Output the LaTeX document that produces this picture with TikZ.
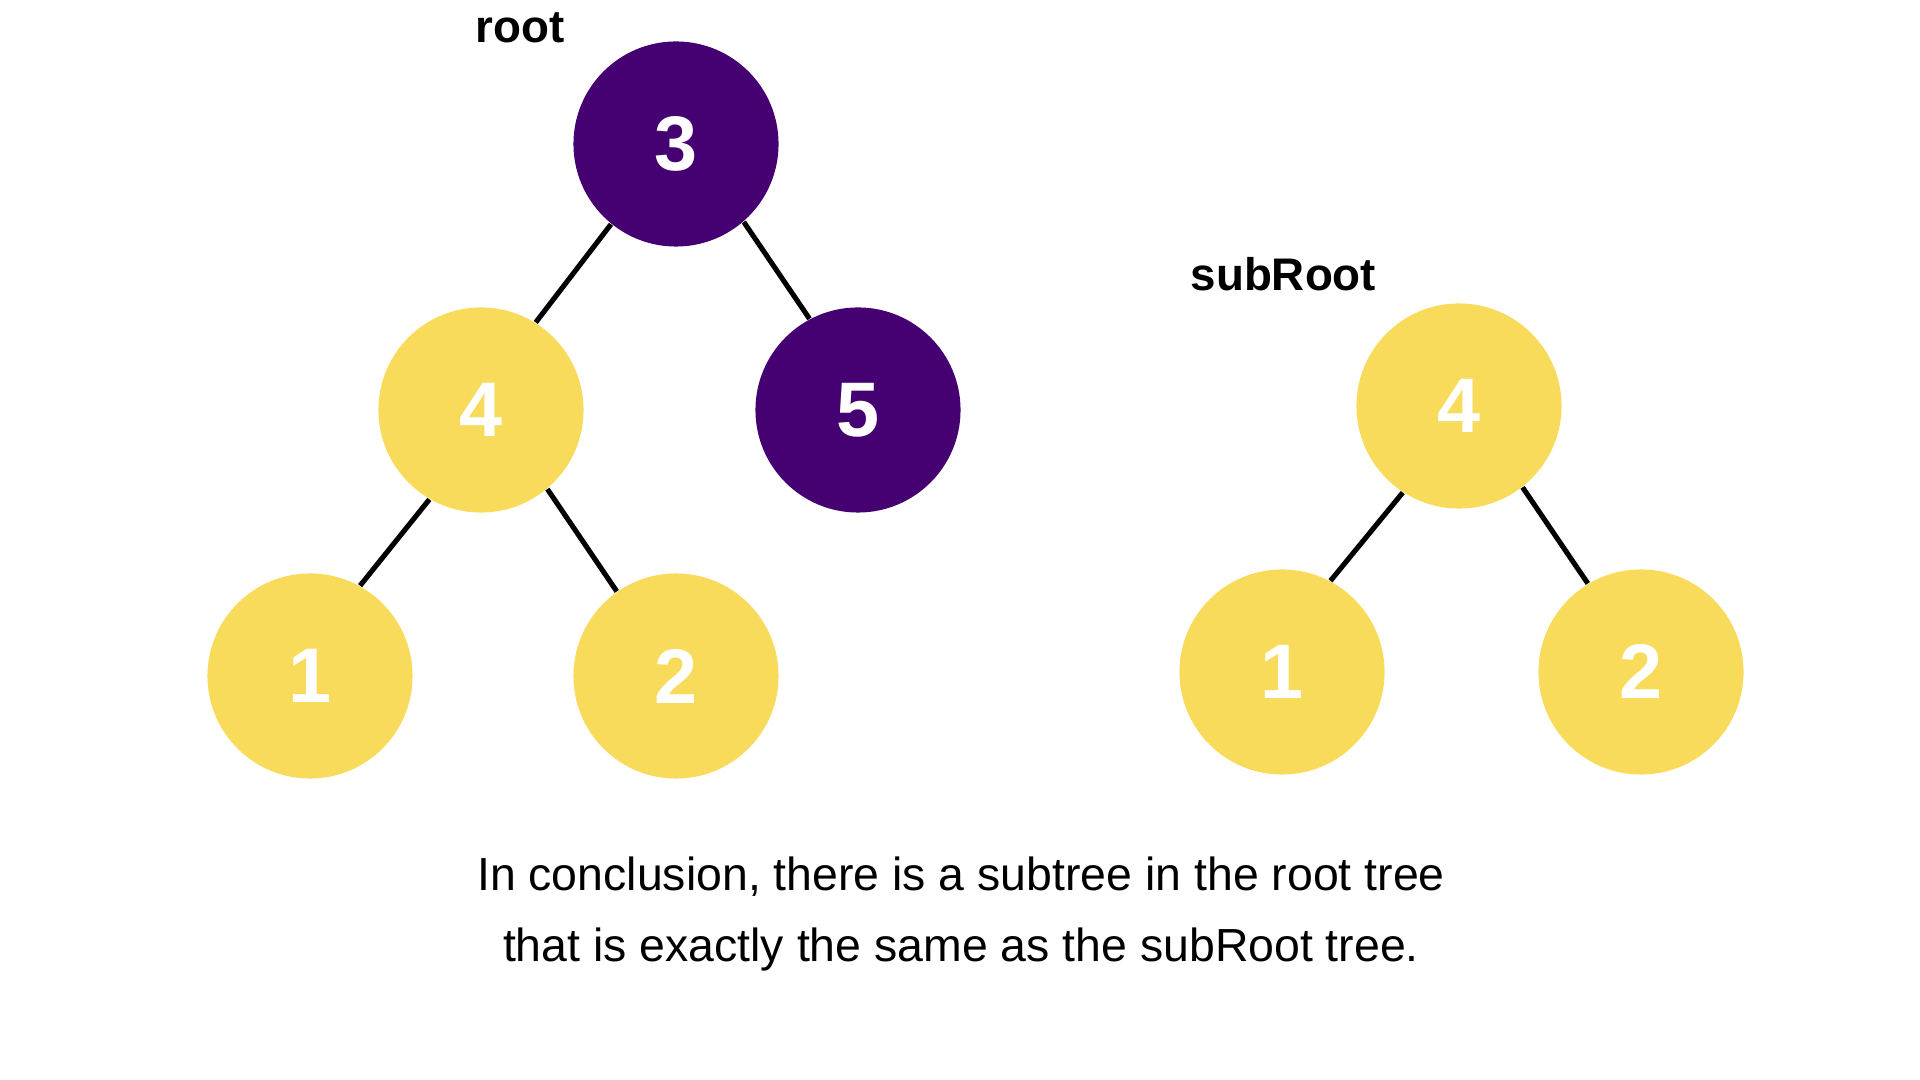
\documentclass[tikz,border=0pt]{standalone}
\usepackage{fontspec}
\setmainfont{Liberation Sans}
\definecolor{purp}{RGB}{69,0,114}
\definecolor{yel}{RGB}{249,219,91}
\begin{document}
\begin{tikzpicture}[x=0.01cm,y=-0.01cm,
  tnode/.style={circle, minimum size=2.05cm, inner sep=0pt, text=white, font=\bfseries\fontsize{22}{22}\selectfont},
  ynode/.style={tnode, fill=yel},
  pnode/.style={tnode, fill=purp},
  link/.style={line width=1.45pt, draw=black},
  lbl/.style={font=\bfseries\fontsize{13}{15}\selectfont, anchor=base west, inner sep=0pt},
  captxt/.style={font=\fontsize{13.2}{16}\selectfont, anchor=base, inner sep=0pt}]
\useasboundingbox (0,0) rectangle (1920,1080);

% left tree
\node[pnode] (a3) at (676,144) {3};
\node[ynode] (a4) at (481,410) {4};
\node[pnode] (a5) at (858,410) {5};
\node[ynode] (a1) at (310,676) {1};
\node[ynode] (a2) at (676,676) {2};

% right tree
\node[ynode] (b4) at (1459,406) {4};
\node[ynode] (b1) at (1282,672) {1};
\node[ynode] (b2) at (1641,672) {2};

% connectors
\draw[link] (a3.231) -- (a4.58);
\draw[link] (a3.311) -- (a5.118);
\draw[link] (a4.240) -- (a1.61);
\draw[link] (a4.310) -- (a2.125);
\draw[link] (b4.237) -- (b1.62);
\draw[link] (b4.308) -- (b2.121);

% labels
\node[lbl] (lroot) at (475,43) {root};
\node[lbl] (lsub) at (1190,291) {subRoot};

% caption
\node[captxt] (cap1) at (961,891) {In conclusion, there is a subtree in the root tree};
\node[captxt] (cap2) at (961,962) {that is exactly the same as the subRoot tree.};
\end{tikzpicture}
\end{document}
